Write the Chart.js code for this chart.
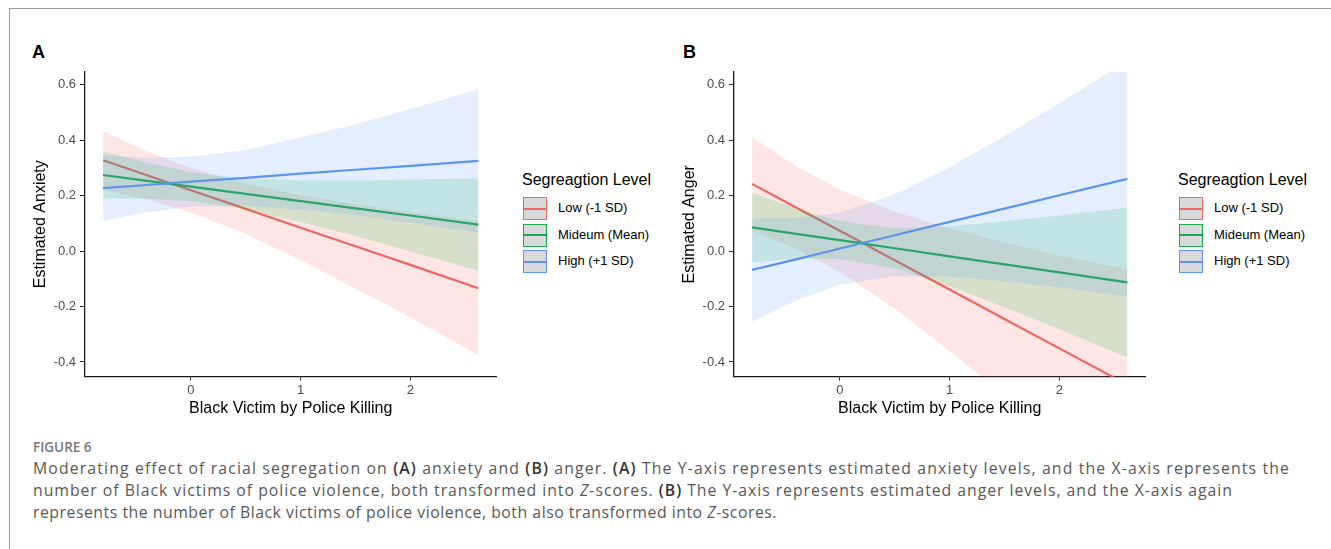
<!DOCTYPE html>
<html>
<head>
<meta charset="utf-8">
<script src="https://cdn.jsdelivr.net/npm/chart.js@4.4.1/dist/chart.umd.min.js"></script>
<style>
  html, body { margin: 0; padding: 0; background: #fff; }
  body { width: 1331px; height: 549px; position: relative; overflow: hidden; font-family: "Liberation Sans", Arial, sans-serif; }
  .frame { position: absolute; left: 9px; top: 8px; width: 1340px; height: 560px; border-left: 1px solid #9a9a9a; border-top: 1px solid #9a9a9a; }
  .panel-letter { position: absolute; font-weight: bold; font-size: 18px; color: #000; }
  canvas { position: absolute; }
  .legend { position: absolute; top: 170px; }
  .legend .title { font-size: 16px; color: #000; white-space: nowrap; line-height: 20px; }
  .legend .item { position: absolute; left: 1px; height: 24px; }
  .legend .key { position: absolute; left: 0; top: 0; width: 22px; height: 21px; background: #d9d9d9; border: 1.5px solid; }
  .legend .key i { position: absolute; left: 0; right: 0; top: 9.5px; height: 2px; }
  .legend .lbl { position: absolute; left: 35px; top: 3px; font-size: 13px; white-space: nowrap; color: #000; }
  .caption { position: absolute; left: 33px; top: 437px; color: #585858; font-family: "Open Sans", "Noto Sans", sans-serif; }
  .caption .fig { font-size: 13.5px; font-weight: 600; color: #777; line-height: 20px; }
  .caption .ln { font-size: 15.8px; line-height: 22px; white-space: nowrap; display: inline-block; }
  .caption b { color: #333; font-weight: 600; }
</style>
</head>
<body>
<div class="frame"></div>
<div class="panel-letter" style="left:32px; top:42px;">A</div>
<div class="panel-letter" style="left:683px; top:42px;">B</div>
<canvas id="chartA" width="490" height="370" style="left:20px; top:60px; width:490px; height:370px;"></canvas>
<canvas id="chartB" width="490" height="370" style="left:669px; top:60px; width:490px; height:370px;"></canvas>
<div class="legend" id="legendA" style="left:522px;"></div>
<div class="legend" id="legendB" style="left:1178px;"></div>
<div class="caption">
  <div class="fig">FIGURE 6</div>
  <div class="ln" data-w="1257">Moderating effect of racial segregation on <b>(A)</b> anxiety and <b>(B)</b> anger. <b>(A)</b> The Y-axis represents estimated anxiety levels, and the X-axis represents the</div><br>
  <div class="ln" data-w="1200">number of Black victims of police violence, both transformed into <i>Z</i>-scores. <b>(B)</b> The Y-axis represents estimated anger levels, and the X-axis again</div><br>
  <div class="ln" data-w="744">represents the number of Black victims of police violence, both also transformed into <i>Z</i>-scores.</div>
</div>
<script>
// x positions (z-scores of Black victims by police killing)
const xVals = [-0.8, -0.4, 0, 0.5, 1, 1.5, 2, 2.62];
const xTicks = [0, 1, 2];
const yTicks = [-0.4, -0.2, 0, 0.2, 0.4, 0.6];
const groups = ['Low (-1 SD)', 'Mideum (Mean)', 'High (+1 SD)'];

// panel A: estimated anxiety
const anxLowFit   = [0.327, 0.273, 0.219, 0.152, 0.084, 0.017, -0.050, -0.134];
const anxLowUpper = [0.432, 0.360, 0.299, 0.242, 0.202, 0.169, 0.140, 0.108];
const anxLowLower = [0.222, 0.186, 0.139, 0.062, -0.034, -0.135, -0.240, -0.376];
const anxMidFit   = [0.274, 0.253, 0.232, 0.206, 0.180, 0.154, 0.128, 0.095];
const anxMidUpper = [0.359, 0.318, 0.284, 0.261, 0.255, 0.254, 0.258, 0.261];
const anxMidLower = [0.189, 0.188, 0.180, 0.151, 0.105, 0.054, -0.002, -0.071];
const anxHighFit   = [0.227, 0.238, 0.250, 0.264, 0.279, 0.293, 0.307, 0.325];
const anxHighUpper = [0.345, 0.336, 0.340, 0.364, 0.409, 0.456, 0.512, 0.583];
const anxHighLower = [0.109, 0.140, 0.160, 0.164, 0.149, 0.130, 0.102, 0.067];

// panel B: estimated anger
const angLowFit   = [0.242, 0.157, 0.073, -0.033, -0.139, -0.245, -0.351, -0.482];
const angLowUpper = [0.410, 0.306, 0.222, 0.142, 0.081, 0.031, -0.016, -0.067];
const angLowLower = [0.074, 0.008, -0.076, -0.208, -0.360, -0.521, -0.688, -0.897];
const angMidFit   = [0.085, 0.062, 0.039, 0.010, -0.019, -0.048, -0.077, -0.113];
const angMidUpper = [0.211, 0.153, 0.107, 0.082, 0.089, 0.107, 0.128, 0.157];
const angMidLower = [-0.041, -0.029, -0.029, -0.062, -0.127, -0.203, -0.282, -0.383];
const angHighFit   = [-0.068, -0.030, 0.009, 0.057, 0.105, 0.153, 0.201, 0.260];
const angHighUpper = [0.118, 0.118, 0.139, 0.205, 0.302, 0.415, 0.533, 0.684];
const angHighLower = [-0.254, -0.178, -0.121, -0.091, -0.092, -0.109, -0.131, -0.164];

const lineColors = ['rgb(238,102,94)', 'rgb(28,168,76)', 'rgb(92,148,240)'];
const bandColors = ['rgba(248,118,109,0.18)', 'rgba(0,186,56,0.16)', 'rgba(97,156,255,0.17)'];

function pts(ys) {
  return ys.map((y, i) => ({ x: xVals[i], y: y }));
}

function buildDatasets(series) {
  const ds = [];
  series.forEach((s, g) => {
    // draw order: red band, red line, green band, green line, blue band, blue line
    const base = 10 - g * 3;
    ds.push({ data: pts(s.upper), borderWidth: 0, pointRadius: 0, fill: '+1', backgroundColor: bandColors[g], order: base });
    ds.push({ data: pts(s.lower), borderWidth: 0, pointRadius: 0, fill: false, order: base });
    ds.push({ data: pts(s.fit), borderColor: lineColors[g], borderWidth: 2.2, pointRadius: 0, fill: false, order: base - 1 });
  });
  return ds;
}

function makeChart(id, yTitle, series) {
  const ctx = document.getElementById(id).getContext('2d');
  return new Chart(ctx, {
    type: 'line',
    data: { datasets: buildDatasets(series) },
    options: {
      responsive: false,
      animation: false,
      devicePixelRatio: 1,
      layout: { padding: { top: 11.7, right: 13.5, left: 0, bottom: 0 } },
      plugins: { legend: { display: false }, tooltip: { enabled: false } },
      scales: {
        x: {
          type: 'linear',
          min: -0.965,
          max: 2.785,
          afterBuildTicks: (axis) => { axis.ticks = xTicks.map(v => ({ value: v })); },
          afterFit: (axis) => { axis.height = 53.3; },
          grid: { display: true, drawOnChartArea: false, drawTicks: true, tickLength: 4, color: '#333', lineWidth: 1 },
          border: { display: true, color: '#1a1a1a', width: 1.3 },
          ticks: { color: '#4d4d4d', font: { family: 'Liberation Sans', size: 13 }, padding: 2, maxRotation: 0 },
          title: { display: true, text: 'Black Victim by Police Killing', color: '#000', font: { family: 'Liberation Sans', size: 16 }, padding: { top: 0, bottom: 11.4 } }
        },
        y: {
          min: -0.453,
          max: 0.646,
          afterBuildTicks: (axis) => { axis.ticks = yTicks.map(v => ({ value: v })); },
          afterFit: (axis) => { axis.width = 65; },
          grid: { display: true, drawOnChartArea: false, drawTicks: true, tickLength: 5, color: '#333', lineWidth: 1 },
          border: { display: true, color: '#1a1a1a', width: 1.3 },
          ticks: { color: '#4d4d4d', font: { family: 'Liberation Sans', size: 13 }, padding: 4, callback: (v) => v.toFixed(1) },
          title: { display: true, text: yTitle, color: '#000', font: { family: 'Liberation Sans', size: 16 }, padding: { top: 11.4, bottom: 0 } }
        }
      }
    }
  });
}

makeChart('chartA', 'Estimated Anxiety', [
  { fit: anxLowFit, upper: anxLowUpper, lower: anxLowLower },
  { fit: anxMidFit, upper: anxMidUpper, lower: anxMidLower },
  { fit: anxHighFit, upper: anxHighUpper, lower: anxHighLower }
]);
makeChart('chartB', 'Estimated Anger', [
  { fit: angLowFit, upper: angLowUpper, lower: angLowLower },
  { fit: angMidFit, upper: angMidUpper, lower: angMidLower },
  { fit: angHighFit, upper: angHighUpper, lower: angHighLower }
]);

function buildLegend(id) {
  const el = document.getElementById(id);
  let html = '<div class="title">Segreagtion Level</div>';
  groups.forEach((name, i) => {
    html += '<div class="item" style="top:' + (27 + i * 26.6) + 'px;">' +
      '<div class="key" style="border-color:' + lineColors[i] + ';"><i style="background:' + lineColors[i] + ';"></i></div>' +
      '<div class="lbl">' + name + '</div></div>';
  });
  el.innerHTML = html;
}
buildLegend('legendA');
buildLegend('legendB');

// stretch each caption line to its width in the figure
document.querySelectorAll('.caption .ln').forEach((ln) => {
  const target = parseFloat(ln.dataset.w);
  const n = ln.textContent.length;
  const w = ln.getBoundingClientRect().width;
  ln.style.letterSpacing = ((target - w) / n).toFixed(3) + 'px';
});
</script>
</body>
</html>
